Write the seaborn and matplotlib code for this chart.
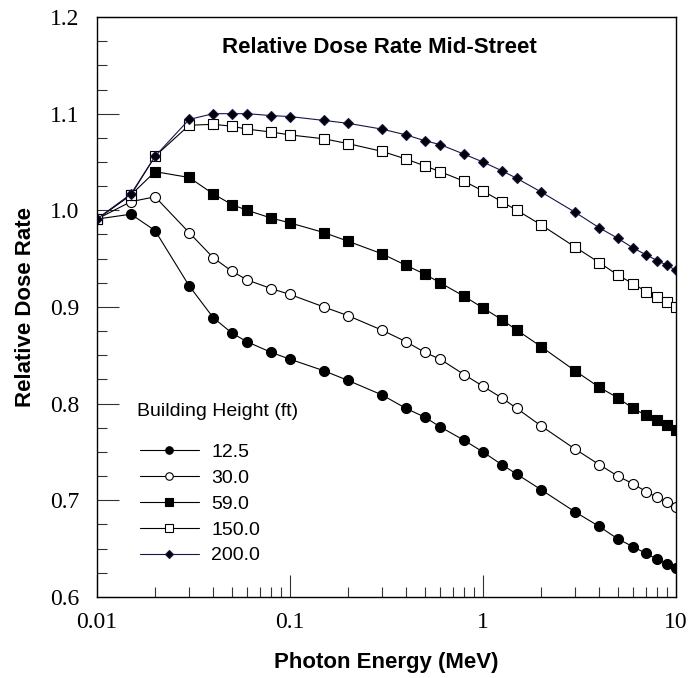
import numpy as np
import pandas as pd
import matplotlib
matplotlib.use("Agg")
import matplotlib.pyplot as plt
import matplotlib.ticker as mticker
import seaborn as sns

# ---------------- data ----------------
energy = [0.01, 0.015, 0.02, 0.03, 0.04, 0.05, 0.06, 0.08, 0.1, 0.15, 0.2, 0.3,
          0.4, 0.5, 0.6, 0.8, 1, 1.25, 1.5, 2, 3, 4, 5, 6, 7, 8, 9, 10]

h12_5 = [0.991, 0.996, 0.979, 0.922, 0.889, 0.873, 0.864, 0.853, 0.846, 0.834, 0.824, 0.809,
         0.795, 0.786, 0.776, 0.762, 0.750, 0.737, 0.727, 0.711, 0.688, 0.673, 0.660, 0.652,
         0.645, 0.639, 0.634, 0.630]
h30_0 = [0.991, 1.009, 1.014, 0.977, 0.951, 0.937, 0.928, 0.919, 0.913, 0.900, 0.891, 0.876,
         0.864, 0.853, 0.846, 0.830, 0.818, 0.806, 0.795, 0.777, 0.753, 0.737, 0.725, 0.717,
         0.709, 0.703, 0.698, 0.693]
h59_0 = [0.991, 1.016, 1.040, 1.034, 1.017, 1.006, 1.000, 0.992, 0.987, 0.977, 0.968, 0.955,
         0.943, 0.934, 0.925, 0.911, 0.899, 0.887, 0.876, 0.859, 0.834, 0.817, 0.806, 0.795,
         0.788, 0.783, 0.778, 0.773]
h150_0 = [0.991, 1.016, 1.056, 1.088, 1.089, 1.087, 1.084, 1.081, 1.078, 1.074, 1.069, 1.061,
          1.053, 1.046, 1.040, 1.030, 1.020, 1.009, 1.000, 0.985, 0.962, 0.946, 0.933, 0.924,
          0.916, 0.910, 0.905, 0.900]
h200_0 = [0.991, 1.017, 1.056, 1.094, 1.100, 1.100, 1.100, 1.098, 1.097, 1.093, 1.090, 1.084,
          1.078, 1.072, 1.068, 1.058, 1.050, 1.041, 1.033, 1.019, 0.998, 0.982, 0.971, 0.961,
          0.954, 0.948, 0.943, 0.938]

heights = ["12.5", "30.0", "59.0", "150.0", "200.0"]
series = [h12_5, h30_0, h59_0, h150_0, h200_0]

x_ticks = [0.01, 0.1, 1, 10]
x_tick_labels = ["0.01", "0.1", "1", "10"]
y_ticks = [0.6, 0.7, 0.8, 0.9, 1.0, 1.1, 1.2]
y_tick_labels = ["0.6", "0.7", "0.8", "0.9", "1.0", "1.1", "1.2"]

# ---------------- style ----------------
sns.set_style("ticks")
plt.rcParams["font.family"] = ["Liberation Sans", "DejaVu Sans"]
plt.rcParams["text.color"] = "black"
plt.rcParams["axes.labelcolor"] = "black"
plt.rcParams["xtick.color"] = "black"
plt.rcParams["ytick.color"] = "black"

styles = [
    dict(marker="o", color="black", mfc="black", mec="black", ms=7.2),
    dict(marker="o", color="black", mfc="white", mec="black", ms=7.2),
    dict(marker="s", color="black", mfc="black", mec="black", ms=7.5),
    dict(marker="s", color="black", mfc="white", mec="black", ms=7.5),
    dict(marker="D", color="#16164a", mfc="black", mec="#16164a", ms=5.6),
]

fig = plt.figure(figsize=(6.9, 6.78), dpi=100)
ax = fig.add_axes([97 / 690, 1 - 597 / 678, 579 / 690, 580 / 678])

for name, vals, st in zip(heights, series, styles):
    df = pd.DataFrame({"energy": energy, "rate": vals})
    sns.lineplot(data=df, x="energy", y="rate", ax=ax, label=name,
                 color=st["color"], marker=st["marker"],
                 markerfacecolor=st["mfc"], markeredgecolor=st["mec"],
                 markersize=st["ms"], markeredgewidth=0.8, linewidth=0.8,
                 estimator=None, sort=False)

ax.set_xscale("log")
ax.set_xlim(0.01, 10)
ax.set_ylim(0.6, 1.2)

ax.xaxis.set_major_locator(mticker.FixedLocator(x_ticks))
ax.xaxis.set_major_formatter(mticker.FixedFormatter(x_tick_labels))
ax.xaxis.set_minor_locator(mticker.LogLocator(base=10, subs=np.arange(2, 10)))
ax.xaxis.set_minor_formatter(mticker.NullFormatter())
ax.yaxis.set_major_locator(mticker.FixedLocator(y_ticks))
ax.yaxis.set_major_formatter(mticker.FixedFormatter(y_tick_labels))
ax.yaxis.set_minor_locator(mticker.MultipleLocator(0.025))

ax.tick_params(which="major", direction="in", length=16, width=0.8, color="#333333",
               labelcolor="black", top=False, right=False)
ax.tick_params(which="minor", direction="in", length=7.5, width=0.8, color="#333333",
               top=False, right=False)
ax.tick_params(axis="y", which="major", pad=13)
ax.tick_params(axis="x", which="major", pad=11)
for lbl in ax.get_xticklabels() + ax.get_yticklabels():
    lbl.set_fontfamily("Liberation Serif")
    lbl.set_fontsize(17)

for sp in ax.spines.values():
    sp.set_visible(True)
    sp.set_linewidth(1.0)
    sp.set_color("black")

ax.set_xlabel("Photon Energy (MeV)", fontsize=16, fontweight="bold", color="black")
ax.set_ylabel("Relative Dose Rate", fontsize=16, fontweight="bold", color="black")
ax.xaxis.set_label_coords(0.5, -0.095)
ax.yaxis.set_label_coords(-0.106, 0.5)

ax.text(0.487, 0.947, "Relative Dose Rate Mid-Street", transform=ax.transAxes,
        ha="center", va="center", fontsize=16, fontweight="bold", color="black")

ax.text(0.069, (597 - 412) / 580, "Building Height (ft)", transform=ax.transAxes,
        ha="left", va="center", fontsize=14, color="black")

leg = ax.legend(loc="upper left", bbox_to_anchor=(0.074, (597 - 443) / 580),
                frameon=False, fontsize=14, borderpad=0, borderaxespad=0,
                handlelength=3.05, handletextpad=0.62, labelspacing=0.43,
                markerscale=0.75)
for t in leg.get_texts():
    t.set_color("black")

fig.savefig("out.png", dpi=100)
